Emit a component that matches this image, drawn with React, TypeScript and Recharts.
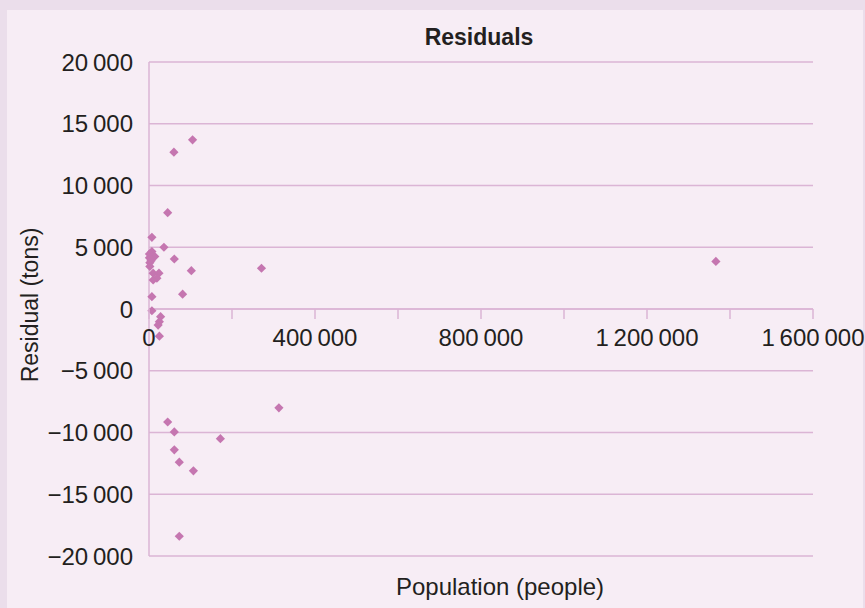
import React from 'react';
import { ScatterChart, Scatter, XAxis, YAxis, CartesianGrid, ReferenceLine } from 'recharts';

// ---- data ----
const population: number[] = [
  105000, 60000, 45000, 7000, 36000, 61000, 102000, 271000, 1366000, 81000,
  7000, 7000, 28000, 25000, 22000, 25000,
  7000, 14000, 1000, 2000, 2000, 1000, 5000, 3000,
  10000, 24000, 19000, 10000,
  313000, 45000, 61000, 172000, 61000, 73000, 107000, 73000,
];
const residual: number[] = [
  13700, 12700, 7800, 5800, 5000, 4050, 3100, 3300, 3850, 1200,
  1000, -140, -620, -1030, -1300, -2200,
  4650, 4250, 4150, 3750, 3450, 4450, 3900, 4100,
  2900, 2900, 2500, 2350,
  -8000, -9150, -9950, -10500, -11400, -12400, -13100, -18400,
];
const xTicks: number[] = [0, 200000, 400000, 600000, 800000, 1000000, 1200000, 1400000, 1600000];
const xLabelEvery = 400000;
const yTicks: number[] = [-20000, -15000, -10000, -5000, 0, 5000, 10000, 15000, 20000];
const titleText = 'Residuals';
const xTitle = 'Population (people)';
const yTitle = 'Residual (tons)';

const points = population.map((p, i) => ({ x: p, y: residual[i] }));

// ---- style ----
const W = 865;
const H = 608;
const TOP = 62;
const BOTTOM_AXIS = 52;
const LEFT_AXIS = 149;
const RIGHT = 52;
const PLOT_H = H - TOP - BOTTOM_AXIS;
const ZERO_Y = TOP + PLOT_H / 2;
const OUTER = '#ebdeeb';
const INNER = '#f7edf5';
const GRID = '#dbb5d5';
const MARK = '#c576b0';
const TEXT = '#231f20';
const FONT = "'Liberation Sans Narrow', 'Arial Narrow', 'Liberation Sans', sans-serif";
const TICK_FS = 24;

const fmt = (v: number): string => {
  const s = Math.abs(v).toString().replace(/\B(?=(\d{3})+(?!\d))/g, '\u2009');
  return v < 0 ? '\u2212' + s : s;
};

const XTick = (props: any) => {
  const { x, payload } = props;
  const v = payload.value as number;
  const show = v % xLabelEvery === 0;
  return (
    <g>
      <line x1={x} x2={x} y1={ZERO_Y} y2={ZERO_Y + 10} stroke={GRID} strokeWidth={1.5} />
      {show && (
        <text x={x} y={ZERO_Y + 37} textAnchor="middle" fontSize={TICK_FS} fill={TEXT} fontFamily={FONT}>
          {fmt(v)}
        </text>
      )}
    </g>
  );
};

const Diamond = (props: any) => {
  const { cx, cy } = props;
  const r = 4.6;
  return <path d={`M${cx},${cy - r}L${cx + r},${cy}L${cx},${cy + r}L${cx - r},${cy}Z`} fill={MARK} />;
};

export default function App() {
  return (
    <div style={{ position: 'absolute', left: 0, top: 0, width: W, height: H, background: OUTER, overflow: 'hidden' }}>
      <div style={{ position: 'absolute', left: 7, top: 10, width: W - 9, height: H - 10, background: INNER }} />
      <div style={{ position: 'absolute', left: 0, top: 0 }}>
        <ScatterChart width={W} height={H} margin={{ top: TOP, right: RIGHT, bottom: 0, left: 0 }}>
          <CartesianGrid horizontal vertical={false} stroke={GRID} strokeWidth={1.5} />
          <XAxis
            type="number"
            dataKey="x"
            domain={[0, 1600000]}
            ticks={xTicks}
            interval={0}
            height={BOTTOM_AXIS}
            axisLine={false}
            tickLine={false}
            tick={<XTick />}
          />
          <YAxis
            type="number"
            dataKey="y"
            domain={[-20000, 20000]}
            ticks={yTicks}
            interval={0}
            width={LEFT_AXIS}
            axisLine={{ stroke: GRID, strokeWidth: 1.5 }}
            tickLine={false}
            tickSize={6}
            tickMargin={10}
            tickFormatter={fmt}
            tick={{ fontSize: TICK_FS, fill: TEXT, fontFamily: FONT }}
          />
          <ReferenceLine y={0} stroke={GRID} strokeWidth={1.5} />
          <Scatter data={points} shape={<Diamond />} isAnimationActive={false} fill={MARK} />
        </ScatterChart>
      </div>
      <svg width={W} height={H} style={{ position: 'absolute', left: 0, top: 0, pointerEvents: 'none' }}>
        <text x={479} y={45} textAnchor="middle" fontSize={23} fontWeight="bold" fill={TEXT} fontFamily={FONT}>
          {titleText}
        </text>
        <text x={500} y={595} textAnchor="middle" fontSize={24} fill={TEXT} fontFamily={FONT}>
          {xTitle}
        </text>
        <text x={38} y={305} transform="rotate(-90 38 305)" textAnchor="middle" fontSize={23} fill={TEXT} fontFamily={FONT}>
          {yTitle}
        </text>
      </svg>
    </div>
  );
}
